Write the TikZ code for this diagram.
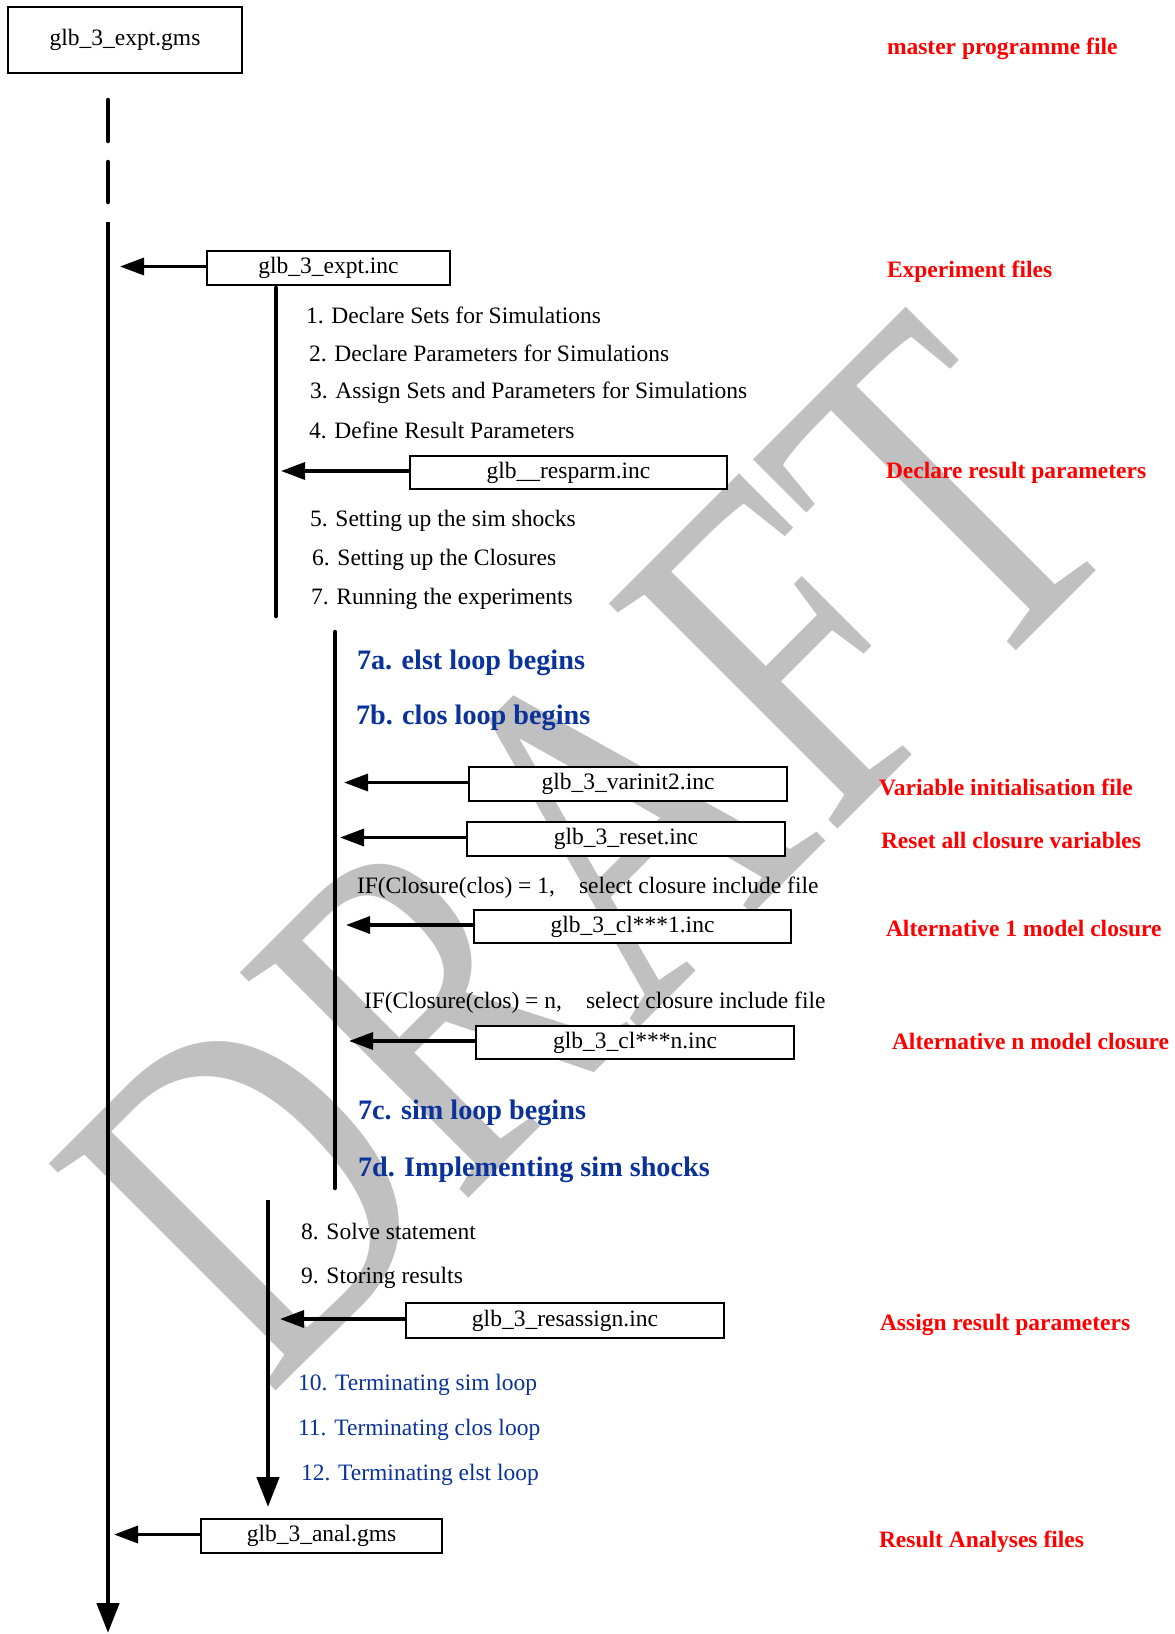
\documentclass[tikz,border=0pt]{standalone}
\usepackage{fontspec}
\setmainfont{Liberation Serif}
\usetikzlibrary{arrows.meta}
\definecolor{dblue}{RGB}{10,50,155}
\definecolor{wmgray}{RGB}{192,192,192}
\begin{document}
\begin{tikzpicture}[x=1pt,y=-1pt,
  every node/.style={inner sep=0pt, outer sep=0pt},
  txt/.style={anchor=base west, font=\fontsize{23.5}{28}\selectfont},
  head/.style={anchor=base west, font=\fontsize{28.2}{34}\selectfont\bfseries, text=dblue},
  tail/.style={txt, text=dblue},
  note/.style={anchor=base west, font=\fontsize{23.5}{28}\selectfont\bfseries, text=red},
  filebox/.style={draw, line width=1.7pt, fill=white, font=\fontsize{23.5}{28}\selectfont},
  flow/.style={line width=4.5pt, line cap=round},
  harrow/.style={line width=3.3pt, -{Triangle[length=24pt,width=17pt]}},
  varrow/.style={line width=4.5pt, -{Triangle[length=30pt,width=22pt]}},
]
\useasboundingbox (0,0) rectangle (1175,1634);
\fill[white] (0,0) rectangle (1175,1634);

% watermark
\node[rotate=45, anchor=base, text=wmgray, font=\fontsize{490}{490}\selectfont] (wm) at (703,964) {\scalebox{0.765}[1]{DRAFT}};

% coordinates of the flow lines
\coordinate (m1a) at (108,100); \coordinate (m1b) at (108,141);
\coordinate (m2a) at (108,162); \coordinate (m2b) at (108,202);
\coordinate (m3a) at (108,222); \coordinate (m3b) at (108,1633);
\coordinate (i1a) at (276,288); \coordinate (i1b) at (276,616);
\coordinate (i2a) at (335,632); \coordinate (i2b) at (335,1188);
\coordinate (i3a) at (268,1200); \coordinate (i3b) at (268,1507);

\draw[flow] (m1a) -- (m1b);
\draw[flow] (m2a) -- (m2b);
\draw[flow] (i1a) -- (i1b);
\draw[flow] (i2a) -- (i2b);
\draw[varrow] (m3a) -- (m3b);
\draw[varrow] (i3a) -- (i3b);

% file boxes
\node[filebox, minimum width=234pt, minimum height=66pt] (gms) at (125,40) {glb\_3\_expt.gms};
\node[filebox, minimum width=243pt, minimum height=34pt] (expinc) at (328.5,268) {glb\_3\_expt.inc};
\node[filebox, minimum width=317pt, minimum height=33pt] (resparm) at (568.5,472.5) {glb\_\_resparm.inc};
\node[filebox, minimum width=318pt, minimum height=34pt] (varinit) at (628,784) {glb\_3\_varinit2.inc};
\node[filebox, minimum width=318pt, minimum height=34pt] (reset) at (626,839) {glb\_3\_reset.inc};
\node[filebox, minimum width=317pt, minimum height=33pt] (clone) at (632.5,926.5) {glb\_3\_cl***1.inc};
\node[filebox, minimum width=318pt, minimum height=33pt] (cln) at (635,1042.5) {glb\_3\_cl***n.inc};
\node[filebox, minimum width=318pt, minimum height=35pt] (resassign) at (565,1320.5) {glb\_3\_resassign.inc};
\node[filebox, minimum width=241pt, minimum height=34pt] (anal) at (321.5,1536) {glb\_3\_anal.gms};

% arrow tips
\coordinate (a1) at (120,0);
\coordinate (a2) at (281,0);
\coordinate (a3) at (344,0);
\coordinate (a4) at (340,0);
\coordinate (a5) at (346,0);
\coordinate (a6) at (349,0);
\coordinate (a7) at (280,0);
\coordinate (a8) at (114,0);
\draw[harrow] ([yshift=1.5pt]expinc.west) -- ([yshift=1.5pt]expinc.west -| a1);
\draw[harrow] ([yshift=1.5pt]resparm.west) -- ([yshift=1.5pt]resparm.west -| a2);
\draw[harrow] ([yshift=1.5pt]varinit.west) -- ([yshift=1.5pt]varinit.west -| a3);
\draw[harrow] ([yshift=1.5pt]reset.west) -- ([yshift=1.5pt]reset.west -| a4);
\draw[harrow] ([yshift=1.5pt]clone.west) -- ([yshift=1.5pt]clone.west -| a5);
\draw[harrow] ([yshift=1.5pt]cln.west) -- ([yshift=1.5pt]cln.west -| a6);
\draw[harrow] ([yshift=1.5pt]resassign.west) -- ([yshift=1.5pt]resassign.west -| a7);
\draw[harrow] ([yshift=1.5pt]anal.west) -- ([yshift=1.5pt]anal.west -| a8);

% step texts
\node[txt] (s1) at (306,323) {1. Declare Sets for Simulations};
\node[txt] (s2) at (309,361) {2. Declare Parameters for Simulations};
\node[txt] (s3) at (310,398) {3. Assign Sets and Parameters for Simulations};
\node[txt] (s4) at (309,438) {4. Define Result Parameters};
\node[txt] (s5) at (310,526) {5. Setting up the sim shocks};
\node[txt] (s6) at (312,565.5) {6. Setting up the Closures};
\node[txt] (s7) at (311,604) {7. Running the experiments};

\node[head] (s7a) at (357,669) {7a. elst loop begins};
\node[head] (s7b) at (356,724.5) {7b. clos loop begins};
\node[txt] (if1) at (357,893.5) {IF(Closure(clos) = 1,};
\node[txt] (if1b) at (579,893.5) {select closure include file};
\node[txt] (ifn) at (364,1008.5) {IF(Closure(clos) = n,};
\node[txt] (ifnb) at (586,1008.5) {select closure include file};
\node[head] (s7c) at (358,1119) {7c. sim loop begins};
\node[head] (s7d) at (358,1176.5) {7d. Implementing sim shocks};

\node[txt] (s8) at (301,1239) {8. Solve statement};
\node[txt] (s9) at (301,1283) {9. Storing results};
\node[tail] (s10) at (298,1390) {10. Terminating sim loop};
\node[tail] (s11) at (298,1435.5) {11. Terminating clos loop};
\node[tail] (s12) at (301,1480) {12. Terminating elst loop};

% red notes
\node[note] (n1) at (887,54) {master programme file};
\node[note] (n2) at (887,277) {Experiment files};
\node[note] (n3) at (886,478) {Declare result parameters};
\node[note] (n4) at (879,795) {Variable initialisation file};
\node[note] (n5) at (881,848) {Reset all closure variables};
\node[note] (n6) at (886,936) {Alternative 1 model closure};
\node[note] (n7) at (892,1049) {Alternative n model closure};
\node[note] (n8) at (880,1330) {Assign result parameters};
\node[note] (n9) at (879,1547) {Result Analyses files};
\end{tikzpicture}
\end{document}
